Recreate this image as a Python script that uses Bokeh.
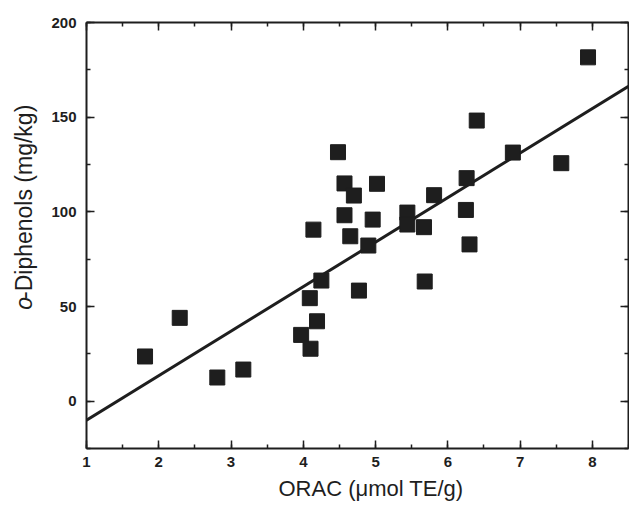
import math
from bokeh.plotting import figure
from bokeh.layouts import row
from bokeh.models import (LinearAxis, SingleIntervalTicker, Label, Range1d,
                          ColumnDataSource, Title)
from bokeh.embed import file_html
from bokeh.resources import INLINE

# ---- data ----
orac = [1.81, 2.29, 2.81, 3.17, 3.97, 4.10, 4.19, 4.09, 4.25, 4.14, 4.77,
        4.48, 4.57, 4.70, 5.02, 4.57, 4.96, 4.65, 4.90, 5.44, 5.44, 5.67,
        5.81, 5.68, 6.26, 6.25, 6.30, 6.40, 6.90, 7.57, 7.94]
diphenols = [23.6, 44.0, 12.5, 16.7, 35.0, 27.7, 42.2, 54.4, 63.7, 90.6, 58.4,
             131.5, 115.0, 108.6, 114.8, 98.2, 95.9, 87.1, 82.2, 99.6, 93.3, 91.9,
             108.8, 63.2, 117.8, 101.0, 82.8, 148.2, 131.3, 125.7, 181.6]
fit_x = [1.0, 8.5]
fit_intercept = -33.5
fit_slope = 23.5
fit_y = [fit_intercept + fit_slope * v for v in fit_x]

x_range = (1, 8.5)
y_range = (-25, 200)
x_title = "ORAC (\u03bcmol TE/g)"
y_title_italic = "o"
y_title_rest = "-Diphenols (mg/kg)"

INK = "#1e1e1e"
FONT = "Liberation Sans"
W_TOTAL, H_TOTAL = 629, 510
W_LABEL = 40

p = figure(width=W_TOTAL - W_LABEL, height=H_TOTAL, output_backend="svg",
           toolbar_location=None,
           x_range=Range1d(*x_range), y_range=Range1d(*y_range),
           x_axis_type=None, y_axis_type=None,
           min_border_left=86 - W_LABEL, min_border_right=1, min_border_top=22,
           min_border_bottom=62)
p.outline_line_color = None
p.grid.visible = False
p.background_fill_color = "white"
p.border_fill_color = "white"

def make_axis(kind, show_labels):
    if kind == "x":
        ticker = SingleIntervalTicker(interval=1, num_minor_ticks=2)
    else:
        ticker = SingleIntervalTicker(interval=50, num_minor_ticks=2)
    ax = LinearAxis(ticker=ticker)
    ax.axis_line_width = 2
    ax.axis_line_color = INK
    ax.major_tick_in = 8
    ax.major_tick_out = 0
    ax.minor_tick_in = 4
    ax.minor_tick_out = 0
    ax.major_tick_line_width = 1.5
    ax.minor_tick_line_width = 1.5
    ax.major_tick_line_color = INK
    ax.minor_tick_line_color = INK
    if show_labels:
        ax.major_label_text_font = FONT
        ax.major_label_text_font_size = "15px"
        ax.major_label_text_font_style = "bold"
        ax.major_label_text_color = INK
        ax.major_label_standoff = 8 if kind == "x" else 10
    else:
        ax.major_label_text_font_size = "0px"
        ax.major_label_standoff = 0
    return ax

p.add_layout(make_axis("x", True), "below")
p.add_layout(make_axis("y", True), "left")
p.add_layout(make_axis("x", False), "above")
p.add_layout(make_axis("y", False), "right")

p.add_layout(Title(text=x_title, align="left", offset=192, standoff=9,
                   text_font=FONT, text_font_size="22px",
                   text_font_style="normal", text_color=INK), "below")

# regression line
p.line(fit_x, fit_y, line_width=3, line_color=INK)

# data points
src = ColumnDataSource(dict(x=orac, y=diphenols))
p.scatter("x", "y", source=src, marker="square", size=15,
          fill_color=INK, line_color=INK)

# y-axis title panel (pixel coordinates, y downwards)
fy = figure(width=W_LABEL, height=H_TOTAL, output_backend="svg",
            toolbar_location=None, x_range=Range1d(0, W_LABEL),
            y_range=Range1d(H_TOTAL, 0), x_axis_type=None, y_axis_type=None,
            min_border=0)
fy.outline_line_color = None
fy.grid.visible = False
fy.add_layout(Label(x=23, y=344, text=y_title_italic, angle=math.pi / 2,
                    text_font=FONT, text_font_size="23px", text_color=INK,
                    text_font_style="italic",
                    text_align="left", text_baseline="middle"))
fy.add_layout(Label(x=23, y=331, text=y_title_rest, angle=math.pi / 2,
                    text_font=FONT, text_font_size="23px", text_color=INK,
                    text_align="left", text_baseline="middle"))

layout = row(fy, p)
open("out.html", "w").write(file_html(layout, INLINE))
